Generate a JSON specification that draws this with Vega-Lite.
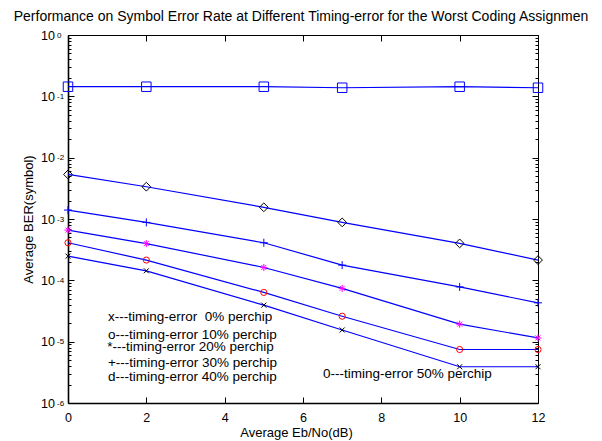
{
  "$schema": "https://vega.github.io/schema/vega-lite/v6.json",
  "width": 470,
  "height": 368,
  "autosize": "none",
  "padding": {"left": 68, "top": 35, "right": 64, "bottom": 38},
  "background": "white",
  "config": {
    "view": {"stroke": null},
    "font": "Liberation Sans",
    "axis": {"labelFont": "Liberation Sans", "titleFont": "Liberation Sans", "labelColor": "black", "titleColor": "black", "tickColor": "black", "domainColor": "black", "grid": false, "titleFontWeight": "normal", "tickWidth": 1, "domainWidth": 1}
  },
  "title": {"text": "Performance on Symbol Error Rate at Different Timing-error for the Worst Coding Assignmen", "fontSize": 14, "fontWeight": "normal", "font": "Liberation Sans", "frame": "group", "anchor": "middle", "offset": 5, "color": "black", "dx": -2},
  "datasets": {
    "ber": [
      {"x": 0, "y": 0.000248, "s": "0%"}, {"x": 2, "y": 0.000143, "s": "0%"}, {"x": 5, "y": 0.0000394, "s": "0%"}, {"x": 7, "y": 0.0000155, "s": "0%"}, {"x": 10, "y": 0.0000039, "s": "0%"}, {"x": 12, "y": 0.0000039, "s": "0%"},
      {"x": 0, "y": 0.00041, "s": "10%"}, {"x": 2, "y": 0.000214, "s": "10%"}, {"x": 5, "y": 0.0000635, "s": "10%"}, {"x": 7, "y": 0.000026, "s": "10%"}, {"x": 10, "y": 0.00000745, "s": "10%"}, {"x": 12, "y": 0.00000745, "s": "10%"},
      {"x": 0, "y": 0.00066, "s": "20%"}, {"x": 2, "y": 0.000398, "s": "20%"}, {"x": 5, "y": 0.000162, "s": "20%"}, {"x": 7, "y": 0.000074, "s": "20%"}, {"x": 10, "y": 0.0000193, "s": "20%"}, {"x": 12, "y": 0.0000115, "s": "20%"},
      {"x": 0, "y": 0.0014, "s": "30%"}, {"x": 2, "y": 0.00088, "s": "30%"}, {"x": 5, "y": 0.00041, "s": "30%"}, {"x": 7, "y": 0.000177, "s": "30%"}, {"x": 10, "y": 0.000078, "s": "30%"}, {"x": 12, "y": 0.000043, "s": "30%"},
      {"x": 0, "y": 0.00533, "s": "40%"}, {"x": 2, "y": 0.00336, "s": "40%"}, {"x": 5, "y": 0.00155, "s": "40%"}, {"x": 7, "y": 0.00088, "s": "40%"}, {"x": 10, "y": 0.0004, "s": "40%"}, {"x": 12, "y": 0.000214, "s": "40%"},
      {"x": 0, "y": 0.1435, "s": "50%"}, {"x": 2, "y": 0.1435, "s": "50%"}, {"x": 5, "y": 0.1435, "s": "50%"}, {"x": 7, "y": 0.138, "s": "50%"}, {"x": 10, "y": 0.1435, "s": "50%"}, {"x": 12, "y": 0.138, "s": "50%"}
    ],
    "notes": [
      {"tx": 1.02, "ty": 0.0000252, "label": "x---timing-error \u00a00% perchip"},
      {"tx": 1.02, "ty": 0.0000128, "label": "o---timing-error 10% perchip"},
      {"tx": 1.0, "ty": 0.0000082, "label": "*---timing-error 20% perchip"},
      {"tx": 1.02, "ty": 0.00000454, "label": "+---timing-error 30% perchip"},
      {"tx": 1.02, "ty": 0.00000265, "label": "d---timing-error 40% perchip"},
      {"tx": 6.51, "ty": 0.00000297, "label": "0---timing-error 50% perchip"}
    ]
  },
  "resolve": {"scale": {"x": "shared", "y": "shared"}, "axis": {"x": "independent", "y": "independent"}},
  "layer": [
    {
      "data": {"name": "ber"},
      "mark": {"type": "line", "color": "#0000FF", "strokeWidth": 1.2},
      "encoding": {
        "x": {"field": "x", "type": "quantitative", "scale": {"type": "linear", "domain": [0, 12], "nice": false, "zero": false},
          "axis": {"orient": "bottom", "values": [0, 2, 4, 6, 8, 10, 12], "tickSize": -6, "labelPadding": 14, "labelFontSize": 12.5, "labelFlush": false, "labelOverlap": false, "domainWidth": 1.6,
            "title": "Average Eb/No(dB)", "titleFontSize": 13, "titleX": 228, "titleY": 29, "titleAlign": "center", "titleBaseline": "middle"}},
        "y": {"field": "y", "type": "quantitative", "scale": {"type": "log", "domain": [0.000001, 1], "nice": false},
          "axis": {"orient": "left", "values": [0.000001, 0.00001, 0.0001, 0.001, 0.01, 0.1, 1], "tickSize": -6, "labelPadding": 19.5, "labelFontSize": 12.5, "labelOverlap": false, "labelFlush": false, "labelBaseline": "middle", "labelAlign": "right", "labelDy": -1, "domainWidth": 1.6,
            "labelExpr": "'10'",
            "title": "Average BER(symbol)", "titleFontSize": 13, "titleX": -40, "titleY": 184, "titleAngle": 270, "titleAlign": "center", "titleBaseline": "middle"}},
        "detail": {"field": "s"}
      }
    },
    {
      "data": {"name": "ber"},
      "mark": {"type": "point", "filled": false, "strokeWidth": 1, "opacity": 1},
      "encoding": {
        "x": {"field": "x", "type": "quantitative", "scale": {"type": "linear", "domain": [0, 12], "nice": false, "zero": false}, "axis": null},
        "y": {"field": "y", "type": "quantitative", "scale": {"type": "log", "domain": [0.000001, 1], "nice": false}, "axis": null},
        "shape": {"field": "s", "type": "nominal", "legend": null, "scale": {"domain": ["0%", "10%", "20%", "30%", "40%", "50%"], "range": ["M-1,-1L1,1M-1,1L1,-1", "circle", "M-1,0H1M0,-1V1M-0.7,-0.7L0.7,0.7M-0.7,0.7L0.7,-0.7", "M-1,0H1M0,-1V1", "diamond", "square"]}},
        "stroke": {"field": "s", "type": "nominal", "legend": null, "scale": {"domain": ["0%", "10%", "20%", "30%", "40%", "50%"], "range": ["#000000", "#FF0000", "#FF00FF", "#0000FF", "#000000", "#0000FF"]}},
        "size": {"field": "s", "type": "ordinal", "legend": null, "scale": {"domain": ["0%", "10%", "20%", "30%", "40%", "50%"], "range": [25, 90, 64, 64, 90, 88]}}
      }
    },
    {
      "data": {"name": "notes"},
      "mark": {"type": "text", "align": "left", "baseline": "middle", "fontSize": 13.5, "font": "Liberation Sans", "color": "black"},
      "encoding": {
        "x": {"field": "tx", "type": "quantitative", "scale": {"type": "linear", "domain": [0, 12], "nice": false, "zero": false}, "axis": null},
        "y": {"field": "ty", "type": "quantitative", "scale": {"type": "log", "domain": [0.000001, 1], "nice": false}, "axis": null},
        "text": {"field": "label"}
      }
    },
    {
      "data": {"name": "ber"},
      "mark": {"type": "point", "opacity": 0},
      "encoding": {
        "x": {"field": "x", "type": "quantitative", "scale": {"type": "linear", "domain": [0, 12], "nice": false, "zero": false},
          "axis": {"orient": "top", "values": [0, 2, 4, 6, 8, 10, 12], "tickSize": -6, "labels": false, "title": null}},
        "y": {"field": "y", "type": "quantitative", "scale": {"type": "log", "domain": [0.000001, 1], "nice": false},
          "axis": {"orient": "right", "values": [0.000001, 0.00001, 0.0001, 0.001, 0.01, 0.1, 1], "tickSize": -6, "labels": false, "title": null}}
      }
    },
    {
      "data": {"name": "ber"},
      "mark": {"type": "point", "opacity": 0},
      "encoding": {
        "x": {"field": "x", "type": "quantitative", "scale": {"type": "linear", "domain": [0, 12], "nice": false, "zero": false}, "axis": null},
        "y": {"field": "y", "type": "quantitative", "scale": {"type": "log", "domain": [0.000001, 1], "nice": false},
          "axis": {"orient": "left", "values": [0.000001, 0.00001, 0.0001, 0.001, 0.01, 0.1, 1], "ticks": false, "tickSize": 0, "domain": false, "title": null, "labelPadding": 11.5, "labelAlign": "left", "labelBaseline": "middle", "labelDy": -7.5, "labelFontSize": 8, "labelOverlap": false, "labelFlush": false,
            "labelExpr": "datum.value > 0.5 ? '0' : '-' + round(-log(datum.value)/LN10)"}}
      }
    },
    {
      "data": {"name": "ber"},
      "mark": {"type": "point", "opacity": 0},
      "encoding": {
        "x": {"field": "x", "type": "quantitative", "scale": {"type": "linear", "domain": [0, 12], "nice": false, "zero": false}, "axis": null},
        "y": {"field": "y", "type": "quantitative", "scale": {"type": "log", "domain": [0.000001, 1], "nice": false},
          "axis": {"orient": "left", "values": [0.000002, 0.000003, 0.000004, 0.000005, 0.000006, 0.000007, 0.000008, 0.000009, 0.00002, 0.00003, 0.00004, 0.00005, 0.00006, 0.00007, 0.00008, 0.00009, 0.0002, 0.0003, 0.0004, 0.0005, 0.0006, 0.0007, 0.0008, 0.0009, 0.002, 0.003, 0.004, 0.005, 0.006, 0.007, 0.008, 0.009, 0.02, 0.03, 0.04, 0.05, 0.06, 0.07, 0.08, 0.09, 0.2, 0.3, 0.4, 0.5, 0.6, 0.7, 0.8, 0.9], "tickSize": -3, "labels": false, "domain": false, "title": null}}
      }
    },
    {
      "data": {"name": "ber"},
      "mark": {"type": "point", "opacity": 0},
      "encoding": {
        "x": {"field": "x", "type": "quantitative", "scale": {"type": "linear", "domain": [0, 12], "nice": false, "zero": false}, "axis": null},
        "y": {"field": "y", "type": "quantitative", "scale": {"type": "log", "domain": [0.000001, 1], "nice": false},
          "axis": {"orient": "right", "values": [0.000002, 0.000003, 0.000004, 0.000005, 0.000006, 0.000007, 0.000008, 0.000009, 0.00002, 0.00003, 0.00004, 0.00005, 0.00006, 0.00007, 0.00008, 0.00009, 0.0002, 0.0003, 0.0004, 0.0005, 0.0006, 0.0007, 0.0008, 0.0009, 0.002, 0.003, 0.004, 0.005, 0.006, 0.007, 0.008, 0.009, 0.02, 0.03, 0.04, 0.05, 0.06, 0.07, 0.08, 0.09, 0.2, 0.3, 0.4, 0.5, 0.6, 0.7, 0.8, 0.9], "tickSize": -3, "labels": false, "domain": false, "title": null}}
      }
    }
  ]
}
